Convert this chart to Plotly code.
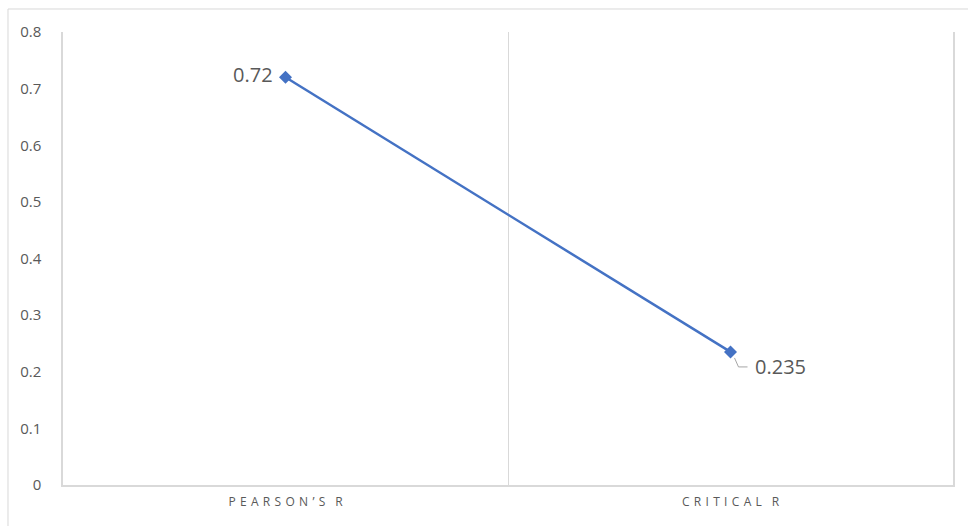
import plotly.graph_objects as go

# Data
categories = ["PEARSON’S R", "CRITICAL R"]
values = [0.72, 0.235]
value_labels = ["0.72", "0.235"]

# Letter-spaced category captions (word gap kept narrow)
spaced = [" \u200a".join(list(c.replace(" ", "\u200a"))) for c in categories]

GRID = "#d9d9d9"
TEXT = "#595959"
BLUE = "#4472C4"

fig = go.Figure()
fig.add_trace(go.Scatter(
    x=categories, y=values, mode="lines+markers",
    line=dict(color=BLUE, width=2.5),
    marker=dict(symbol="diamond", size=10, color=BLUE),
    hoverinfo="x+y", showlegend=False,
))

# Value label left of the first point
fig.add_annotation(x=categories[0], y=values[0], text=value_labels[0],
                   showarrow=False, xanchor="right", yanchor="middle",
                   xshift=-11, yshift=3,
                   font=dict(family="Open Sans", size=20, color=TEXT))
# Value label right of the second point, with an elbow leader line
fig.add_annotation(x=categories[1], y=values[1], text=value_labels[1],
                   showarrow=False, xanchor="left", yanchor="middle",
                   xshift=22, yshift=-15,
                   font=dict(family="Open Sans", size=20, color=TEXT))
fig.add_shape(type="path", xref="x", yref="y",
              xsizemode="pixel", ysizemode="pixel",
              xanchor=categories[1], yanchor=values[1],
              path="M 4,-6 L 8,-15 L 17,-15",
              line=dict(color="#a6a6a6", width=1))

# Outer chart border
fig.add_shape(type="rect", xref="paper", yref="paper",
              x0=-0.0618, x1=1.2, y0=-0.3, y1=1.0508,
              line=dict(color=GRID, width=1), layer="below")

fig.update_layout(
    width=968, height=526,
    margin=dict(l=63, r=15, t=32, b=41),
    paper_bgcolor="white", plot_bgcolor="white",
    font=dict(family="Open Sans", color=TEXT),
    xaxis=dict(
        type="category", range=[-0.5, 1.5],
        tickmode="array", tickvals=categories, ticktext=spaced,
        tickson="boundaries", ticks="",
        showgrid=True, gridcolor=GRID, gridwidth=1,
        showline=True, linecolor=GRID, linewidth=1.5,
        tickfont=dict(family="Open Sans", size=12, color=TEXT),
        ticklabelstandoff=5, zeroline=False,
    ),
    yaxis=dict(
        range=[0, 0.8], dtick=0.1, tick0=0,
        showgrid=False, zeroline=False,
        showline=True, mirror=True, linecolor=GRID, linewidth=1.5,
        ticks="", tickformat="~g",
        tickfont=dict(family="Open Sans", size=15, color=TEXT),
        ticklabelstandoff=17,
    ),
)

fig.write_html("out.html")
